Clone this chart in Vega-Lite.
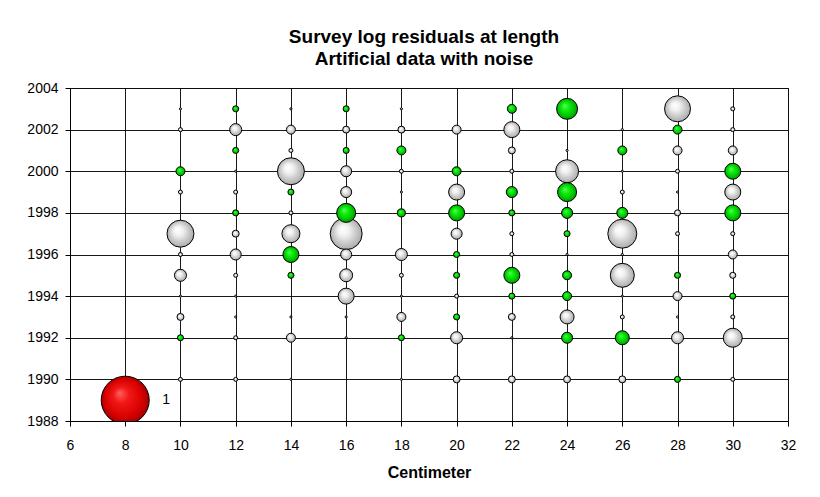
{
  "$schema": "https://vega.github.io/schema/vega-lite/v6.json",
  "width": 718,
  "height": 333,
  "autosize": {"type": "none"},
  "padding": {"left": 70, "top": 88, "right": 32, "bottom": 76},
  "background": "white",
  "title": {
    "text": ["Survey log residuals at length", "Artificial data with noise"],
    "font": "Liberation Sans",
    "fontSize": 19,
    "fontWeight": "bold",
    "color": "black",
    "lineHeight": 22,
    "anchor": "middle",
    "dx": -5,
    "offset": 12
  },
  "data": {
    "values": [
      {"cm": 8, "year": 1989, "size": 1, "sign": "reference"},

      {"cm": 10, "year": 2003, "size": 0.002, "sign": "negative"},
      {"cm": 10, "year": 2002, "size": 0.007, "sign": "negative"},
      {"cm": 10, "year": 2000, "size": 0.035, "sign": "positive"},
      {"cm": 10, "year": 1999, "size": 0.007, "sign": "negative"},
      {"cm": 10, "year": 1997, "size": 0.316, "sign": "negative"},
      {"cm": 10, "year": 1996, "size": 0.007, "sign": "negative"},
      {"cm": 10, "year": 1995, "size": 0.063, "sign": "negative"},
      {"cm": 10, "year": 1994, "size": 0.002, "sign": "negative"},
      {"cm": 10, "year": 1993, "size": 0.021, "sign": "negative"},
      {"cm": 10, "year": 1992, "size": 0.016, "sign": "positive"},
      {"cm": 10, "year": 1990, "size": 0.007, "sign": "negative"},

      {"cm": 12, "year": 2003, "size": 0.016, "sign": "positive"},
      {"cm": 12, "year": 2002, "size": 0.063, "sign": "negative"},
      {"cm": 12, "year": 2001, "size": 0.016, "sign": "positive"},
      {"cm": 12, "year": 2000, "size": 0.002, "sign": "negative"},
      {"cm": 12, "year": 1999, "size": 0.007, "sign": "negative"},
      {"cm": 12, "year": 1998, "size": 0.016, "sign": "positive"},
      {"cm": 12, "year": 1997, "size": 0.021, "sign": "negative"},
      {"cm": 12, "year": 1996, "size": 0.053, "sign": "negative"},
      {"cm": 12, "year": 1995, "size": 0.007, "sign": "negative"},
      {"cm": 12, "year": 1994, "size": 0.002, "sign": "negative"},
      {"cm": 12, "year": 1993, "size": 0.002, "sign": "negative"},
      {"cm": 12, "year": 1992, "size": 0.007, "sign": "negative"},
      {"cm": 12, "year": 1990, "size": 0.007, "sign": "negative"},

      {"cm": 14, "year": 2003, "size": 0.002, "sign": "negative"},
      {"cm": 14, "year": 2002, "size": 0.035, "sign": "negative"},
      {"cm": 14, "year": 2001, "size": 0.007, "sign": "negative"},
      {"cm": 14, "year": 2000, "size": 0.316, "sign": "negative"},
      {"cm": 14, "year": 1999, "size": 0.016, "sign": "positive"},
      {"cm": 14, "year": 1998, "size": 0.007, "sign": "negative"},
      {"cm": 14, "year": 1997, "size": 0.141, "sign": "negative"},
      {"cm": 14, "year": 1996, "size": 0.111, "sign": "positive"},
      {"cm": 14, "year": 1995, "size": 0.016, "sign": "positive"},
      {"cm": 14, "year": 1993, "size": 0.002, "sign": "negative"},
      {"cm": 14, "year": 1992, "size": 0.035, "sign": "negative"},
      {"cm": 14, "year": 1990, "size": 0.002, "sign": "negative"},

      {"cm": 16, "year": 2003, "size": 0.016, "sign": "positive"},
      {"cm": 16, "year": 2002, "size": 0.021, "sign": "negative"},
      {"cm": 16, "year": 2001, "size": 0.016, "sign": "positive"},
      {"cm": 16, "year": 2000, "size": 0.053, "sign": "negative"},
      {"cm": 16, "year": 1999, "size": 0.053, "sign": "negative"},
      {"cm": 16, "year": 1998, "size": 0.157, "sign": "positive"},
      {"cm": 16, "year": 1997, "size": 0.444, "sign": "negative"},
      {"cm": 16, "year": 1996, "size": 0.053, "sign": "negative"},
      {"cm": 16, "year": 1995, "size": 0.073, "sign": "negative"},
      {"cm": 16, "year": 1994, "size": 0.111, "sign": "negative"},
      {"cm": 16, "year": 1993, "size": 0.002, "sign": "negative"},
      {"cm": 16, "year": 1992, "size": 0.002, "sign": "negative"},

      {"cm": 18, "year": 2003, "size": 0.002, "sign": "negative"},
      {"cm": 18, "year": 2002, "size": 0.021, "sign": "negative"},
      {"cm": 18, "year": 2001, "size": 0.035, "sign": "positive"},
      {"cm": 18, "year": 2000, "size": 0.007, "sign": "negative"},
      {"cm": 18, "year": 1999, "size": 0.002, "sign": "negative"},
      {"cm": 18, "year": 1998, "size": 0.028, "sign": "positive"},
      {"cm": 18, "year": 1996, "size": 0.063, "sign": "negative"},
      {"cm": 18, "year": 1995, "size": 0.007, "sign": "negative"},
      {"cm": 18, "year": 1994, "size": 0.002, "sign": "negative"},
      {"cm": 18, "year": 1993, "size": 0.035, "sign": "negative"},
      {"cm": 18, "year": 1992, "size": 0.016, "sign": "positive"},
      {"cm": 18, "year": 1990, "size": 0.002, "sign": "negative"},

      {"cm": 20, "year": 2002, "size": 0.035, "sign": "negative"},
      {"cm": 20, "year": 2000, "size": 0.035, "sign": "positive"},
      {"cm": 20, "year": 1999, "size": 0.111, "sign": "negative"},
      {"cm": 20, "year": 1998, "size": 0.111, "sign": "positive"},
      {"cm": 20, "year": 1997, "size": 0.053, "sign": "negative"},
      {"cm": 20, "year": 1996, "size": 0.016, "sign": "positive"},
      {"cm": 20, "year": 1995, "size": 0.016, "sign": "positive"},
      {"cm": 20, "year": 1994, "size": 0.007, "sign": "negative"},
      {"cm": 20, "year": 1993, "size": 0.016, "sign": "positive"},
      {"cm": 20, "year": 1992, "size": 0.063, "sign": "negative"},
      {"cm": 20, "year": 1990, "size": 0.021, "sign": "negative"},

      {"cm": 22, "year": 2003, "size": 0.035, "sign": "positive"},
      {"cm": 22, "year": 2002, "size": 0.111, "sign": "negative"},
      {"cm": 22, "year": 2001, "size": 0.021, "sign": "negative"},
      {"cm": 22, "year": 2000, "size": 0.007, "sign": "negative"},
      {"cm": 22, "year": 1999, "size": 0.053, "sign": "positive"},
      {"cm": 22, "year": 1998, "size": 0.016, "sign": "positive"},
      {"cm": 22, "year": 1997, "size": 0.007, "sign": "negative"},
      {"cm": 22, "year": 1996, "size": 0.007, "sign": "negative"},
      {"cm": 22, "year": 1995, "size": 0.111, "sign": "positive"},
      {"cm": 22, "year": 1994, "size": 0.016, "sign": "positive"},
      {"cm": 22, "year": 1993, "size": 0.021, "sign": "negative"},
      {"cm": 22, "year": 1992, "size": 0.002, "sign": "negative"},
      {"cm": 22, "year": 1990, "size": 0.021, "sign": "negative"},

      {"cm": 24, "year": 2003, "size": 0.191, "sign": "positive"},
      {"cm": 24, "year": 2001, "size": 0.002, "sign": "negative"},
      {"cm": 24, "year": 2000, "size": 0.23, "sign": "negative"},
      {"cm": 24, "year": 1999, "size": 0.157, "sign": "positive"},
      {"cm": 24, "year": 1998, "size": 0.053, "sign": "positive"},
      {"cm": 24, "year": 1997, "size": 0.016, "sign": "positive"},
      {"cm": 24, "year": 1996, "size": 0.002, "sign": "negative"},
      {"cm": 24, "year": 1995, "size": 0.035, "sign": "positive"},
      {"cm": 24, "year": 1994, "size": 0.035, "sign": "positive"},
      {"cm": 24, "year": 1993, "size": 0.085, "sign": "negative"},
      {"cm": 24, "year": 1992, "size": 0.053, "sign": "positive"},
      {"cm": 24, "year": 1990, "size": 0.021, "sign": "negative"},

      {"cm": 26, "year": 2002, "size": 0.002, "sign": "negative"},
      {"cm": 26, "year": 2001, "size": 0.035, "sign": "positive"},
      {"cm": 26, "year": 2000, "size": 0.002, "sign": "negative"},
      {"cm": 26, "year": 1999, "size": 0.007, "sign": "negative"},
      {"cm": 26, "year": 1998, "size": 0.053, "sign": "positive"},
      {"cm": 26, "year": 1997, "size": 0.365, "sign": "negative"},
      {"cm": 26, "year": 1996, "size": 0.002, "sign": "negative"},
      {"cm": 26, "year": 1995, "size": 0.25, "sign": "negative"},
      {"cm": 26, "year": 1994, "size": 0.002, "sign": "negative"},
      {"cm": 26, "year": 1993, "size": 0.007, "sign": "negative"},
      {"cm": 26, "year": 1992, "size": 0.085, "sign": "positive"},
      {"cm": 26, "year": 1990, "size": 0.021, "sign": "negative"},

      {"cm": 28, "year": 2003, "size": 0.293, "sign": "negative"},
      {"cm": 28, "year": 2002, "size": 0.035, "sign": "positive"},
      {"cm": 28, "year": 2001, "size": 0.035, "sign": "negative"},
      {"cm": 28, "year": 2000, "size": 0.007, "sign": "negative"},
      {"cm": 28, "year": 1999, "size": 0.002, "sign": "negative"},
      {"cm": 28, "year": 1998, "size": 0.016, "sign": "negative"},
      {"cm": 28, "year": 1997, "size": 0.007, "sign": "negative"},
      {"cm": 28, "year": 1995, "size": 0.016, "sign": "positive"},
      {"cm": 28, "year": 1994, "size": 0.035, "sign": "negative"},
      {"cm": 28, "year": 1993, "size": 0.002, "sign": "negative"},
      {"cm": 28, "year": 1992, "size": 0.063, "sign": "negative"},
      {"cm": 28, "year": 1990, "size": 0.016, "sign": "positive"},

      {"cm": 30, "year": 2003, "size": 0.007, "sign": "negative"},
      {"cm": 30, "year": 2002, "size": 0.007, "sign": "negative"},
      {"cm": 30, "year": 2001, "size": 0.035, "sign": "negative"},
      {"cm": 30, "year": 2000, "size": 0.111, "sign": "positive"},
      {"cm": 30, "year": 1999, "size": 0.111, "sign": "negative"},
      {"cm": 30, "year": 1998, "size": 0.111, "sign": "positive"},
      {"cm": 30, "year": 1997, "size": 0.007, "sign": "negative"},
      {"cm": 30, "year": 1996, "size": 0.035, "sign": "negative"},
      {"cm": 30, "year": 1995, "size": 0.016, "sign": "negative"},
      {"cm": 30, "year": 1994, "size": 0.016, "sign": "positive"},
      {"cm": 30, "year": 1993, "size": 0.007, "sign": "negative"},
      {"cm": 30, "year": 1992, "size": 0.157, "sign": "negative"},
      {"cm": 30, "year": 1990, "size": 0.007, "sign": "negative"}
    ]
  },
  "encoding": {
    "x": {
      "field": "cm",
      "type": "quantitative",
      "scale": {"domain": [6, 32], "nice": false, "zero": false},
      "axis": {
        "values": [6, 8, 10, 12, 14, 16, 18, 20, 22, 24, 26, 28, 30, 32],
        "title": "Centimeter"
      }
    },
    "y": {
      "field": "year",
      "type": "quantitative",
      "scale": {"domain": [1988, 2004], "nice": false, "zero": false},
      "axis": {
        "values": [1988, 1990, 1992, 1994, 1996, 1998, 2000, 2002, 2004],
        "format": "d",
        "title": null
      }
    }
  },
  "layer": [
    {
      "mark": {"type": "circle", "opacity": 1, "stroke": "black", "strokeWidth": 1, "clip": true},
      "encoding": {
        "size": {
          "field": "size",
          "type": "quantitative",
          "scale": {"domain": [0, 1], "range": [0, 2304], "zero": true},
          "legend": null
        },
        "fill": {
          "condition": [
            {
              "test": "datum.sign === 'reference'",
              "value": {
                "gradient": "radial",
                "x1": 0.38, "y1": 0.35, "r1": 0,
                "x2": 0.5, "y2": 0.5, "r2": 0.55,
                "stops": [
                  {"offset": 0, "color": "#ff6060"},
                  {"offset": 0.3, "color": "#f21818"},
                  {"offset": 0.7, "color": "#d80000"},
                  {"offset": 1, "color": "#960000"}
                ]
              }
            },
            {
              "test": "datum.sign === 'positive'",
              "value": {
                "gradient": "radial",
                "x1": 0.38, "y1": 0.35, "r1": 0,
                "x2": 0.5, "y2": 0.5, "r2": 0.55,
                "stops": [
                  {"offset": 0, "color": "#5cff5c"},
                  {"offset": 0.3, "color": "#14f014"},
                  {"offset": 0.7, "color": "#00c400"},
                  {"offset": 1, "color": "#008a00"}
                ]
              }
            }
          ],
          "value": {
            "gradient": "radial",
            "x1": 0.38, "y1": 0.35, "r1": 0,
            "x2": 0.5, "y2": 0.5, "r2": 0.55,
            "stops": [
              {"offset": 0, "color": "#ffffff"},
              {"offset": 0.3, "color": "#f2f2f2"},
              {"offset": 0.6, "color": "#cfcfcf"},
              {"offset": 0.85, "color": "#b4b4b4"},
              {"offset": 1, "color": "#969696"}
            ]
          }
        },
        "order": {"field": "size", "type": "quantitative", "sort": "descending"}
      }
    },
    {
      "transform": [{"filter": "datum.sign === 'reference'"}],
      "mark": {"type": "text", "align": "left", "baseline": "middle", "dx": 37, "font": "Liberation Sans", "fontSize": 14, "color": "black"},
      "encoding": {
        "text": {"field": "size", "type": "quantitative"}
      }
    }
  ],
  "config": {
    "font": "Liberation Sans",
    "view": {"stroke": "#808080", "strokeWidth": 1},
    "axis": {
      "grid": true,
      "gridColor": "#000000",
      "gridOpacity": 0.9,
      "gridWidth": 1,
      "domainColor": "#000000",
      "tickColor": "#000000",
      "tickSize": 5,
      "labelFont": "Liberation Sans",
      "labelFontSize": 14,
      "labelColor": "#000000",
      "labelFlush": false,
      "labelOverlap": false,
      "titleFont": "Liberation Sans",
      "titleFontSize": 16,
      "titleFontWeight": "bold",
      "titleColor": "#000000"
    },
    "axisX": {"labelPadding": 12, "titlePadding": 12},
    "axisY": {"labelPadding": 7}
  }
}
